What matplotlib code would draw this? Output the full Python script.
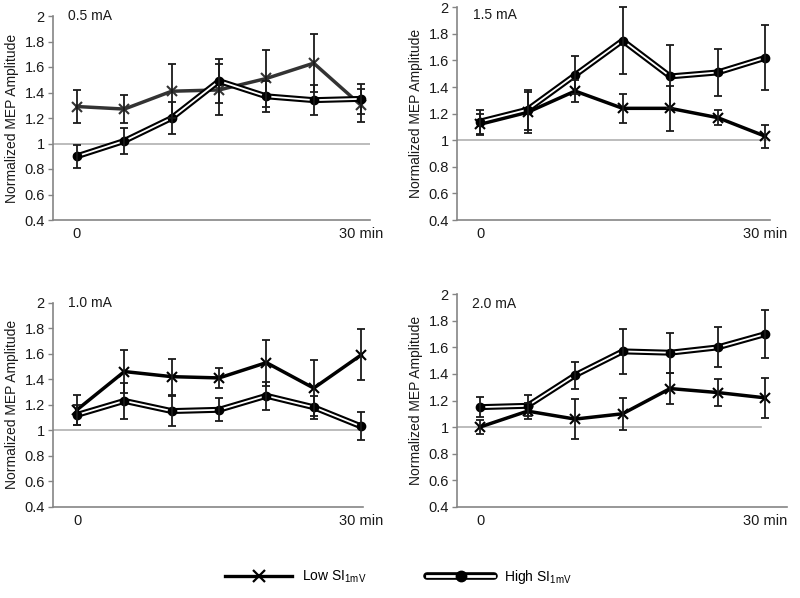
import matplotlib
matplotlib.use('Agg')
import matplotlib.pyplot as plt
from matplotlib.lines import Line2D
from matplotlib.legend_handler import HandlerTuple

plt.rcParams['font.family'] = ['Liberation Sans', 'DejaVu Sans']
plt.rcParams['mathtext.fontset'] = 'custom'
plt.rcParams['mathtext.rm'] = 'Liberation Sans'

# ---------------- data ----------------
time_points = [0, 1, 2, 3, 4, 5, 6]
x_tick_labels = ['0', '30 min']
y_ticks = [0.4, 0.6, 0.8, 1.0, 1.2, 1.4, 1.6, 1.8, 2.0]
y_tick_labels = ['0.4', '0.6', '0.8', '1', '1.2', '1.4', '1.6', '1.8', '2']
panel_titles = ['0.5 mA', '1.5 mA', '1.0 mA', '2.0 mA']

low_05 = [1.29, 1.27, 1.41, 1.42, 1.51, 1.63, 1.30]
low_05_err = [0.13, 0.11, 0.21, 0.20, 0.22, 0.225, 0.13]
high_05 = [0.90, 1.02, 1.20, 1.49, 1.37, 1.34, 1.35]
high_05_err = [0.09, 0.10, 0.125, 0.17, 0.12, 0.12, 0.12]

low_15 = [1.12, 1.21, 1.37, 1.24, 1.24, 1.17, 1.03]
low_15_err = [0.08, 0.155, 0.08, 0.11, 0.17, 0.057, 0.085]
high_15 = [1.14, 1.23, 1.49, 1.75, 1.48, 1.51, 1.62]
high_15_err = [0.09, 0.15, 0.14, 0.255, 0.24, 0.175, 0.245]

low_10 = [1.16, 1.46, 1.42, 1.41, 1.53, 1.33, 1.59]
low_10_err = [0.12, 0.17, 0.14, 0.08, 0.18, 0.22, 0.20]
high_10 = [1.12, 1.23, 1.15, 1.16, 1.27, 1.18, 1.03]
high_10_err = [0.08, 0.14, 0.12, 0.09, 0.11, 0.09, 0.11]

low_20 = [1.00, 1.12, 1.06, 1.10, 1.29, 1.26, 1.22]
low_20_err = [0.05, 0.06, 0.15, 0.12, 0.12, 0.105, 0.15]
high_20 = [1.15, 1.16, 1.39, 1.57, 1.56, 1.60, 1.70]
high_20_err = [0.075, 0.08, 0.10, 0.17, 0.15, 0.15, 0.18]

# ---------------- layout ----------------
W, H = 800, 598
fig = plt.figure(figsize=(W / 100, H / 100), dpi=100)


def px_axes(left, right, top, bottom):
    return fig.add_axes([left / W, 1 - bottom / H, (right - left) / W, (bottom - top) / H])


panels = [
    dict(box=(53, 370, 16, 220), xlim=(-0.507, 6.19), low=low_05, low_err=low_05_err,
         high=high_05, high_err=high_05_err, low_color='#333333', ref_end=1.0,
         title_pos=(-0.19, 2.0)),
    dict(box=(457, 770, 7.3, 220), xlim=(-0.484, 6.10), low=low_15, low_err=low_15_err,
         high=high_15, high_err=high_15_err, low_color='black', ref_end=0.99,
         title_pos=(-0.15, 1.94)),
    dict(box=(53, 363, 302.7, 506.7), xlim=(-0.507, 6.04), low=low_10, low_err=low_10_err,
         high=high_10, high_err=high_10_err, low_color='black', ref_end=1.0,
         title_pos=(-0.19, 2.0)),
    dict(box=(457, 787, 294.3, 506.7), xlim=(-0.484, 6.46), low=low_20, low_err=low_20_err,
         high=high_20, high_err=high_20_err, low_color='black', ref_end=0.921,
         title_pos=(-0.17, 1.93)),
]

spine_color = '#858585'
text_color = '#1a1a1a'

for p, title in zip(panels, panel_titles):
    ax = px_axes(*p['box'])
    ax.set_xlim(*p['xlim'])
    ax.set_ylim(0.4, 2.0)
    for s in ['top', 'right']:
        ax.spines[s].set_visible(False)
    for s in ['left', 'bottom']:
        ax.spines[s].set_color(spine_color)
        ax.spines[s].set_linewidth(1.2)
    ax.set_yticks(y_ticks)
    ax.set_yticklabels(y_tick_labels)
    ax.set_xticks([time_points[0], time_points[-1]])
    ax.set_xticklabels(x_tick_labels)
    ax.tick_params(axis='y', direction='out', length=3.5, width=1, color=spine_color,
                   labelsize=10.5, pad=2.5, labelcolor=text_color)
    ax.tick_params(axis='x', length=0, labelsize=10.5, pad=5, labelcolor=text_color)
    ax.set_ylabel('Normalized MEP Amplitude', fontsize=10, labelpad=4, color=text_color)

    ax.axhline(1.0, xmin=0, xmax=p['ref_end'], color='#b0b0b0', lw=1.2, zorder=1)

    ax.plot(time_points, p['low'], color=p['low_color'], lw=2.5, marker='x', ms=6.5,
            mew=1.5, zorder=4, clip_on=False)
    ax.plot(time_points, p['high'], color='black', lw=4.3, zorder=5, clip_on=False)
    ax.plot(time_points, p['high'], color='white', lw=1.3, zorder=6, clip_on=False)
    ax.plot(time_points, p['high'], ls='none', marker='o', ms=6, color='black',
            zorder=7, clip_on=False)

    for vals, errs in [(p['low'], p['low_err']), (p['high'], p['high_err'])]:
        eb = ax.errorbar(time_points, vals, yerr=errs, fmt='none', ecolor=text_color,
                         elinewidth=1.3, capsize=3, capthick=1.3, zorder=8)
        for art in list(eb.lines[1]) + list(eb.lines[2]):
            art.set_clip_on(False)

    ax.text(p['title_pos'][0], p['title_pos'][1], title, fontsize=10, ha='left',
            va='center', color=text_color)

# ---------------- legend ----------------
low_handle = Line2D([], [], color='black', lw=2.4, marker='x', ms=9, mew=1.6)
high_handle = (
    Line2D([], [], color='black', lw=5.5, solid_capstyle='round'),
    Line2D([], [], color='white', lw=2),
    Line2D([], [], ls='none', marker='o', ms=7.5, color='black'),
)
fig.legend([low_handle, high_handle],
           [r'Low SI$_\mathregular{1mV}$', r'High SI$_\mathregular{1mV}$'],
           loc='center', bbox_to_anchor=(0.498, 1 - 577 / H), ncol=2, frameon=False,
           handlelength=4.8, columnspacing=4.4, handletextpad=0.7, fontsize=10,
           handler_map={tuple: HandlerTuple(ndivide=1)})

fig.savefig('out.png', dpi=100)
